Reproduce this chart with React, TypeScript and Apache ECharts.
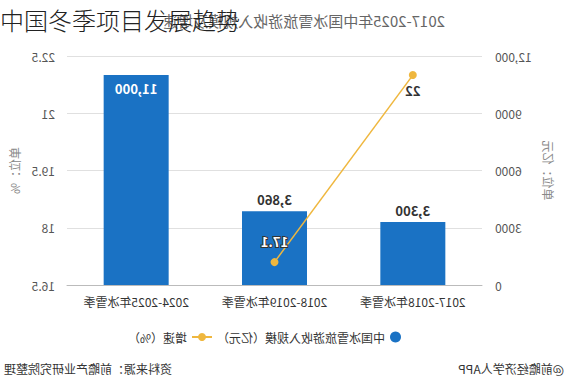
import React, { useEffect, useRef } from "react";
import * as echarts from "echarts";

const categories = ["2017-2018年冰雪季", "2018-2019年冰雪季", "2024-2025年冰雪季"];
const revenue = [3300, 3860, 11000];
const growth: (number | string)[] = [22, 17.1, "-"];
const revenueTicks = { min: 0, max: 12000, interval: 3000 };
const growthTicks = { min: 16.5, max: 22.5, interval: 1.5 };
const chartTitle = "2017-2025年中国冰雪旅游收入规模及增速";
const overlayTitle = "中国冬季项目发展趋势";
const seriesNames = ["中国冰雪旅游收入规模（亿元）", "增速（%）"];
const sourceText = "资料来源：前瞻产业研究院整理";
const brandText = "@前瞻经济学人APP";

const FONT = "'Noto Sans CJK SC', 'Noto Sans', sans-serif";

export default function App() {
  const ref = useRef<HTMLDivElement>(null);
  useEffect(() => {
    if (!ref.current) return;
    const chart = echarts.init(ref.current, undefined, { renderer: "svg" });
    chart.setOption({
      animation: false,
      textStyle: { fontFamily: FONT },
      title: {
        text: chartTitle,
        left: 114,
        top: 8,
        textStyle: { fontSize: 15, fontWeight: "normal", color: "#666", fontFamily: FONT },
      },
      grid: { left: 82, right: 67, top: 56, bottom: 105 },
      legend: [
        {
          left: 158,
          bottom: 42,
          itemWidth: 11,
          itemHeight: 11,
          itemGap: 4,
          textStyle: { fontSize: 12, color: "#333" },
          data: [{ name: seriesNames[0], icon: "circle" }],
        },
        {
          left: 346,
          bottom: 42,
          itemWidth: 20,
          itemHeight: 10,
          textStyle: { fontSize: 12, color: "#333" },
          data: [{ name: seriesNames[1] }],
        },
      ],
      xAxis: {
        type: "category",
        data: categories,
        axisTick: { alignWithLabel: true, lineStyle: { color: "#bbb" } },
        axisLine: { lineStyle: { color: "#bbb" } },
        axisLabel: { color: "#333", fontSize: 12, margin: 10 },
      },
      yAxis: [
        {
          type: "value",
          ...revenueTicks,
          name: "单位：亿元",
          nameLocation: "middle",
          nameRotate: 90,
          nameGap: 56,
          nameTextStyle: { color: "#888", fontSize: 12 },
          axisLine: { show: false },
          axisTick: { show: false },
          axisLabel: {
            color: "#555",
            fontSize: 12,
            margin: 13,
            formatter: (v: number) => (v >= 10000 ? v.toLocaleString("en-US") : String(v)),
          },
          splitLine: { lineStyle: { color: "#e0e0e0" } },
        },
        {
          type: "value",
          ...growthTicks,
          name: "单位：%",
          nameLocation: "middle",
          nameRotate: -90,
          nameGap: 47,
          nameTextStyle: { color: "#888", fontSize: 12 },
          axisLine: { show: false },
          axisTick: { show: false },
          axisLabel: { color: "#555", fontSize: 12, margin: 12 },
          splitLine: { show: false },
        },
      ],
      series: [
        {
          name: seriesNames[0],
          type: "bar",
          barWidth: 65,
          itemStyle: { color: "#1a72c4" },
          data: revenue.map((v, i) => ({
            value: v,
            label:
              i === revenue.length - 1
                ? { position: "insideTop", color: "#fff", distance: 7 }
                : { position: "top", color: "#333" },
          })),
          label: {
            show: true,
            fontSize: 13,
            fontWeight: "bold",
            formatter: (p: any) => Number(p.value).toLocaleString("en-US"),
          },
        },
        {
          name: seriesNames[1],
          type: "line",
          yAxisIndex: 1,
          symbol: "circle",
          symbolSize: 8,
          lineStyle: { color: "#efb73e", width: 1.5 },
          itemStyle: { color: "#efb73e" },
          data: growth.map((v, i) => ({
            value: v,
            label:
              i === 1
                ? { position: "top", color: "#fff", textBorderColor: "#333", textBorderWidth: 2, distance: 10 }
                : { position: "bottom", color: "#333", distance: 5 },
          })),
          label: { show: true, fontSize: 13, fontWeight: "bold" },
        },
      ],
      graphic: [
        {
          type: "text",
          right: 4,
          top: 362,
          style: { text: sourceText, fontSize: 12, fill: "#333", fontFamily: FONT },
        },
        {
          type: "text",
          left: 0,
          top: 362,
          style: { text: brandText, fontSize: 12, fill: "#333", fontFamily: FONT },
        },
      ],
    });
    return () => chart.dispose();
  }, []);

  return (
    <div style={{ position: "fixed", left: 0, top: 0, width: 564, height: 390, background: "#fff", overflow: "hidden" }}>
      <div ref={ref} style={{ width: 564, height: 390, transform: "scaleX(-1)" }} />
      <div
        style={{
          position: "absolute",
          left: 0,
          top: 7,
          fontSize: 24,
          lineHeight: "26px",
          fontFamily: FONT,
          fontWeight: 300,
          color: "#222",
          whiteSpace: "nowrap",
        }}
      >
        {overlayTitle}
      </div>
    </div>
  );
}
